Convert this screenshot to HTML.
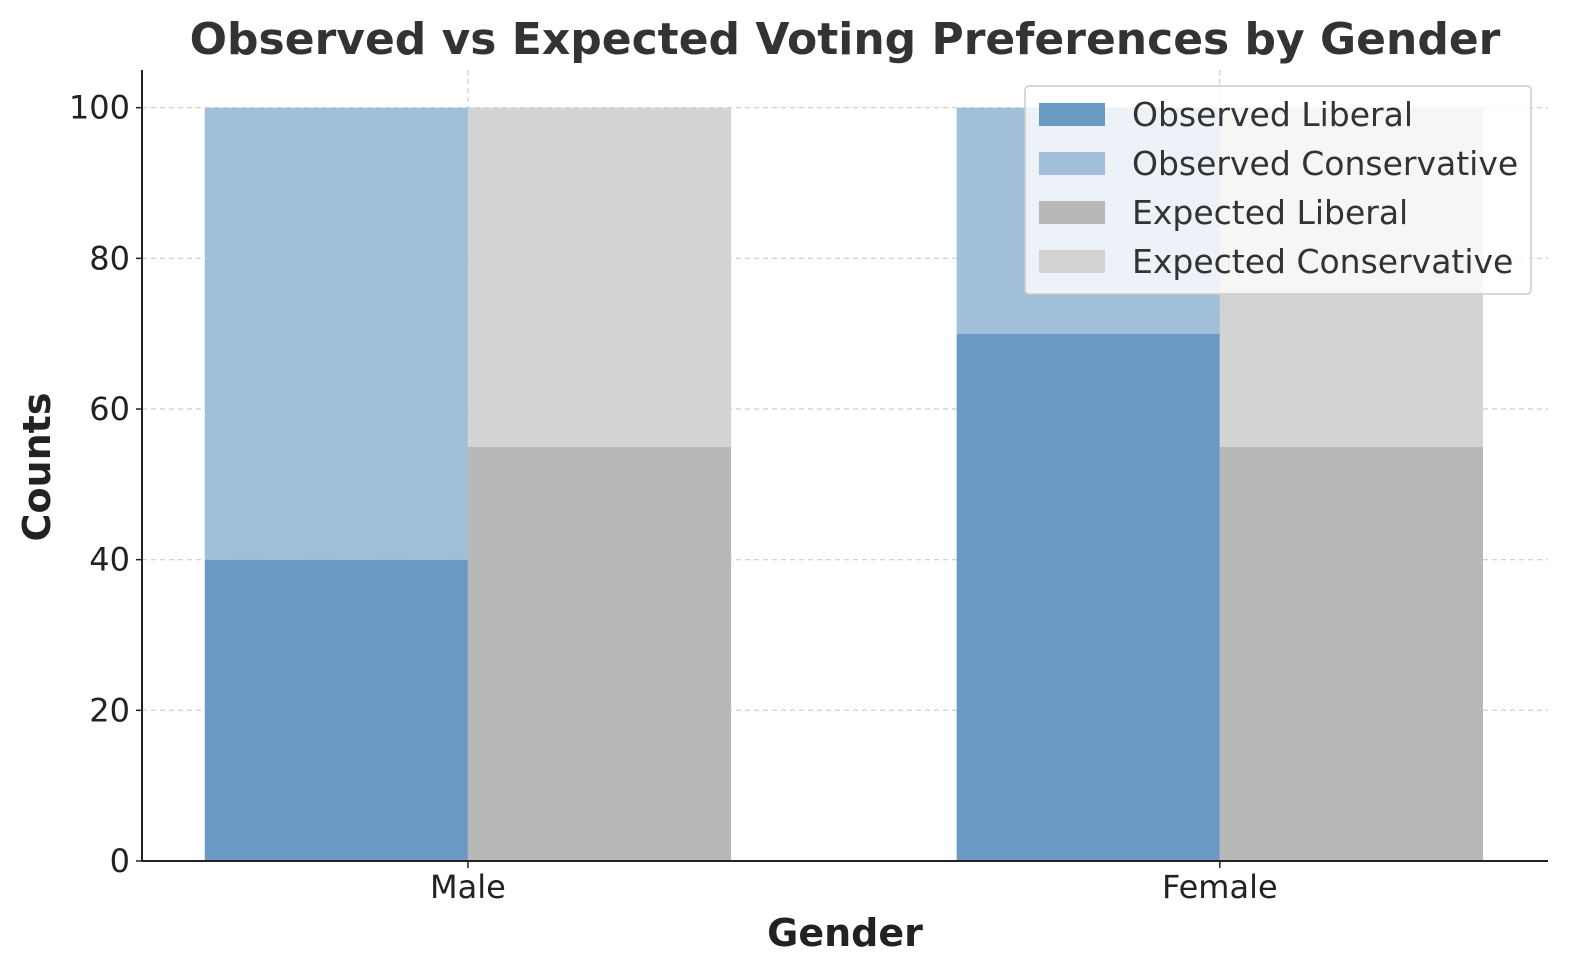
<!DOCTYPE html>
<html><head><meta charset="utf-8"><style>
body{margin:0;background:#fff;}
svg{display:block;font-family:"DejaVu Sans","Liberation Sans",sans-serif;}
</style></head><body>
<svg id="chart" width="1580" height="980" viewBox="0 0 1580 980">
<text x="845" y="54" text-anchor="middle" font-size="44" font-weight="bold" fill="#333">Observed vs Expected Voting Preferences by Gender</text>
<g id="grid"></g><g id="bars"></g><g id="axes"></g>
<text x="845" y="946" text-anchor="middle" font-size="38" font-weight="bold" fill="#222">Gender</text>
<text transform="translate(50,467) rotate(-90)" text-anchor="middle" font-size="38" font-weight="bold" fill="#222">Counts</text>
<g id="legend">
<rect x="1025" y="86" width="506" height="208" rx="4" fill="#fff" fill-opacity="0.8" stroke="#ccc" stroke-width="1.5"/>
</g>
</svg>
<script>
const categories=["Male","Female"];
const obsLiberal=[40,70];
const obsConservative=[60,30];
const expLiberal=[55,55];
const expConservative=[45,45];
const yTicks=[0,20,40,60,80,100];
const NS="http://www.w3.org/2000/svg";
const x0=142,x1=1548,yB=861,yT=70;
const xs=v=>x0+(v+0.4335)/(1.4365+0.4335)*(x1-x0);
const ys=v=>yB-(v/105)*(yB-yT);
const bw=xs(0.35)-xs(0);
function mk(p,t,a){const e=document.createElementNS(NS,t);for(const k in a)e.setAttribute(k,a[k]);p.appendChild(e);return e;}
const grid=document.getElementById('grid'),bars=document.getElementById('bars'),axes=document.getElementById('axes');
yTicks.forEach(t=>{if(t>0){const l=mk(grid,'line',{x1:x0,x2:x1,y1:ys(t),y2:ys(t),stroke:'#ccc','stroke-dasharray':'5,4','stroke-width':1.2});

}
const tx=mk(axes,'text',{x:x0-12,y:ys(t)+11,'text-anchor':'end','font-size':32,fill:'#222'});tx.textContent=t;


mk(axes,'line',{x1:x0-6,x2:x0,y1:ys(t),y2:ys(t),stroke:'#222','stroke-width':1.5});});
categories.forEach((c,i)=>{
const vl=mk(grid,'line',{x1:xs(i),x2:xs(i),y1:yT,y2:yB,stroke:'#ccc','stroke-dasharray':'5,4','stroke-width':1.2});


const segs=[[xs(i)-bw,0,obsLiberal[i],'#6a9ac4','observed-liberal-bar'],[xs(i)-bw,obsLiberal[i],obsConservative[i],'#a2bfd9','observed-conservative-bar'],
[xs(i),0,expLiberal[i],'#b8b8b8','expected-liberal-bar'],[xs(i),expLiberal[i],expConservative[i],'#d3d3d3','expected-conservative-bar']];
segs.forEach(s=>{const r=mk(bars,'rect',{x:s[0],y:ys(s[1]+s[2]),width:bw,height:ys(s[1])-ys(s[1]+s[2]),fill:s[3]});

});
mk(axes,'line',{x1:xs(i),x2:xs(i),y1:yB,y2:yB+7,stroke:'#222','stroke-width':1.5});
const t=mk(axes,'text',{x:xs(i),y:yB+37,'text-anchor':'middle','font-size':32,fill:'#222'});t.textContent=c;

});
mk(axes,'line',{x1:x0,x2:x0,y1:yT,y2:yB,stroke:'#222','stroke-width':2});
mk(axes,'line',{x1:x0,x2:x1,y1:yB,y2:yB,stroke:'#222','stroke-width':2});
const lg=document.getElementById('legend');
const items=[['Observed Liberal','#6a9ac4'],['Observed Conservative','#a2bfd9'],['Expected Liberal','#b8b8b8'],['Expected Conservative','#d3d3d3']];
items.forEach((it,k)=>{const y=103+k*49;
const g=mk(lg,'g',{});


mk(g,'rect',{x:1039,y:y,width:66,height:23,fill:it[1]});
const t=mk(g,'text',{x:1132,y:y+23,'font-size':33,fill:'#333'});t.textContent=it[0];});
</script>
</body></html>
